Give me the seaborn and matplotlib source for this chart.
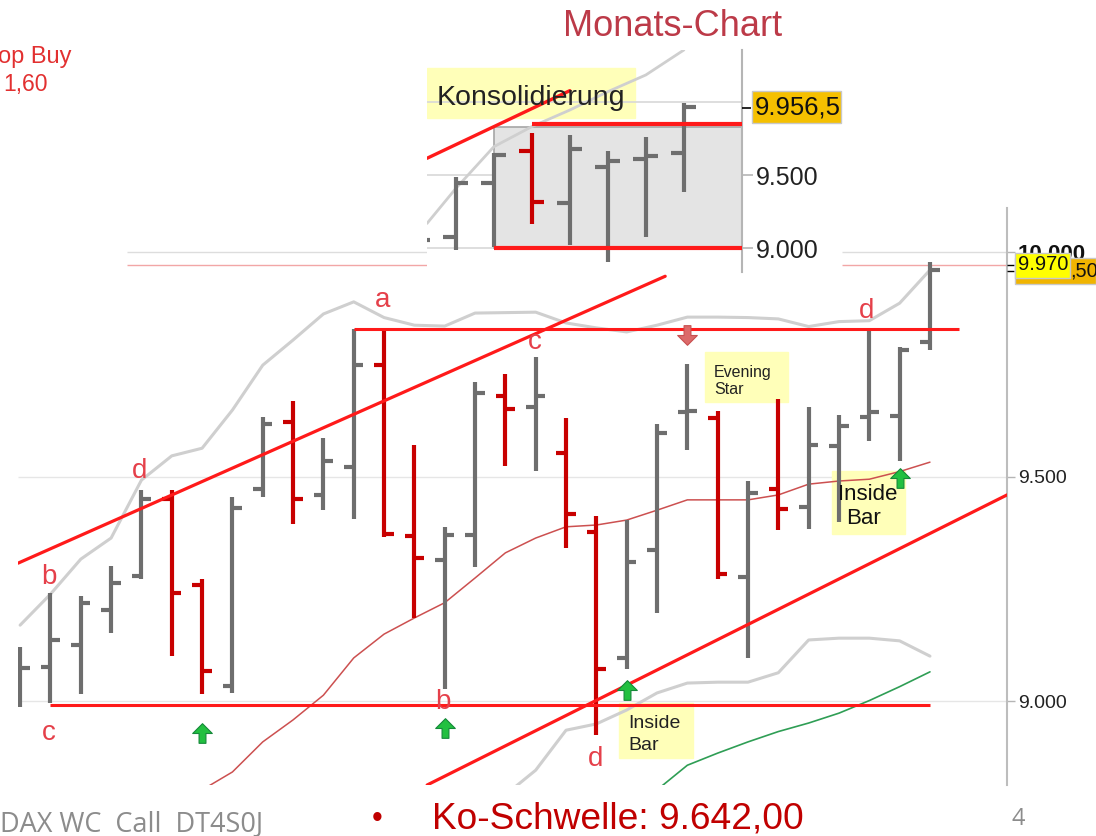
import matplotlib
matplotlib.use("Agg")
import matplotlib.pyplot as plt
from matplotlib.patches import Rectangle
from matplotlib.path import Path
import seaborn as sns

W, H = 1096, 836

# main chart, one entry per month
highs = [9120, 9240, 9234, 9301, 9471, 9471, 9272, 9455, 9633, 9669, 9585, 9828, 9828, 9571, 9388, 9711,
         9728, 9767, 9631, 9413, 9403, 9616, 9750, 9646, 9490, 9673, 9655, 9637, 9828, 9788, 9978]
lows = [8987, 8996, 9016, 9152, 9272, 9100, 9016, 9019, 9454, 9394, 9425, 9405, 9366, 9184, 9026, 9299,
        9523, 9513, 9341, 8924, 9071, 9195, 9559, 9272, 9096, 9381, 9384, 9398, 9579, 9534, 9782]
opens = [9073, 9076, 9125, 9203, 9279, 9449, 9258, 9034, 9472, 9622, 9458, 9521, 9748, 9367, 9314, 9370,
         9679, 9655, 9553, 9377, 9095, 9336, 9644, 9630, 9277, 9472, 9433, 9568, 9633, 9634, 9799]
closes = [9073, 9136, 9218, 9262, 9451, 9241, 9066, 9430, 9618, 9451, 9534, 9748, 9373, 9318, 9370, 9685,
          9651, 9679, 9416, 9071, 9310, 9598, 9647, 9283, 9463, 9427, 9571, 9613, 9644, 9781, 9960]
is_down = [0, 0, 0, 0, 0, 1, 1, 0, 0, 1, 0, 0, 1, 1, 0, 0, 1, 0, 1, 1, 0, 0, 0, 1, 0, 1, 0, 0, 0, 0, 0]

upper_band = [9169, 9238, 9316, 9363, 9492, 9546, 9563, 9648, 9748, 9804, 9862, 9889, 9854, 9837, 9835, 9864,
              9865, 9866, 9842, 9831, 9822, 9837, 9855, 9855, 9854, 9851, 9834, 9845, 9847, 9886, 9960]
mid_band = [8802, 8842, 8909, 8958, 9013, 9096, 9149, 9185, 9219, 9274, 9330, 9363, 9388, 9392, 9403, 9425,
            9448, 9448, 9448, 9459, 9483, 9490, 9494, 9511, 9532]
low_band = [8791, 8846, 8935, 8949, 8980, 9018, 9040, 9042, 9042, 9063, 9136, 9140, 9140, 9134, 9100]
green_line = [8802, 8857, 8884, 8909, 8932, 8951, 8973, 9001, 9032, 9065]

up_arrow_x = [6, 14, 20, 29]
up_arrow_y = [8929, 8940, 9024, 9497]
down_arrow_x = [22]
down_arrow_y = [9815]

tick_vals = [9000, 9500, 10000]
tick_labels = ["9.000", "9.500", "10.000"]

# inset chart
in_highs = [9057, 9489, 9648, 9784, 9773, 9664, 9761, 9993]
in_lows = [9057, 8989, 9007, 9166, 9023, 8905, 9080, 9382]
in_opens = [9057, 9075, 9443, 9664, 9307, 9555, 9609, 9648]
in_closes = [9057, 9443, 9634, 9318, 9675, 9593, 9632, 9961]
in_down = [0, 0, 0, 1, 0, 0, 0, 0]
in_band_x = [0.24, 1, 2, 3, 4, 5, 6, 7]
in_band = [9170, 9409, 9693, 9830, 9943, 10068, 10182, 10352]

GRAY = "#6e6e6e"
DRED = "#c80000"
RED = "#ff1a1a"
BAND = "#cfcfcf"
LABEL = "#e5404a"
YEL = "#ffffb9"

sns.set_style("white")
plt.rcParams["font.family"] = ["Liberation Sans", "DejaVu Sans"]


def px_box(x0, y0, x1, y1):
    return (x0 / W, 1 - y1 / H), (x1 - x0) / W, (y1 - y0) / H


def put(x, y, s, size, color="black", **kw):
    kw.setdefault("va", "center")
    fig.text(x / W, 1 - y / H, s, fontsize=size, color=color, **kw)


def ohlc(ax, xs, hi, lo, op, cl, down, tick, lw):
    for x, h, l, o, c, d in zip(xs, hi, lo, op, cl, down):
        col = DRED if d else GRAY
        ax.vlines(x, l, h, color=col, lw=lw, zorder=3)
        ax.hlines(o, x - tick, x, color=col, lw=lw, zorder=3)
        ax.hlines(c, x, x + tick, color=col, lw=lw, zorder=3)


up_arrow = Path([(-0.35, -1), (0.35, -1), (0.35, 0), (1, 0), (0, 1), (-1, 0), (-0.35, 0), (-0.35, -1)], closed=True)
down_arrow = Path([(-0.35, 1), (0.35, 1), (0.35, 0), (1, 0), (0, -1), (-1, 0), (-0.35, 0), (-0.35, 1)], closed=True)

fig = plt.figure(figsize=(W / 100, H / 100), dpi=100, facecolor="white")

# --- main chart
ax = fig.add_axes([18 / W, 1 - 785 / H, 989 / W, 577 / H], facecolor="white", zorder=1)
months = list(range(len(highs)))

ax.hlines([9000, 9500], -0.07, 32.54, color="#e6e6e6", lw=1, zorder=0)
ax.hlines([10000, 10000], [3.53, 27.1], [13.42, 32.54], color="#dddddd", lw=1, zorder=0)
ax.hlines([9970, 9970], [3.53, 27.1], [13.42, 32.54], color="#f2a6a6", lw=1, zorder=0)
# the two short black marks of the last price
ax.hlines([9970, 9958], 32.54, 32.78, color="black", lw=1, zorder=6, clip_on=False)

xy, w, h = px_box(705, 352, 788, 402)
ax.add_patch(Rectangle(xy, w, h, color=YEL, transform=fig.transFigure, zorder=1))
xy, w, h = px_box(832, 471, 905, 534)
ax.add_patch(Rectangle(xy, w, h, color=YEL, transform=fig.transFigure, zorder=1))
xy, w, h = px_box(619, 703, 693, 758)
ax.add_patch(Rectangle(xy, w, h, color=YEL, transform=fig.transFigure, zorder=1))

sns.lineplot(x=months, y=upper_band, color=BAND, lw=2.2, ax=ax, zorder=2)
sns.lineplot(x=months[6:], y=mid_band, color="#cc5050", lw=1.1, ax=ax, zorder=2)
sns.lineplot(x=months[16:], y=low_band, color=BAND, lw=2.2, ax=ax, zorder=2)
sns.lineplot(x=months[21:], y=green_line, color="#2f9e55", lw=1.2, ax=ax, zorder=2)

ohlc(ax, months, highs, lows, opens, closes, is_down, 0.32, 3)

ax.plot([-0.07, 21.27], [9307, 9946], color=RED, lw=2.3, zorder=4)
ax.plot([13.42, 32.54], [8813, 9459], color=RED, lw=2.3, zorder=4)
ax.hlines(9828, 11, 30.96, color=RED, lw=2.2, zorder=4)
ax.hlines(8991, 1, 30, color=RED, lw=2.2, zorder=4)

ax.scatter(up_arrow_x, up_arrow_y, marker=up_arrow, s=200, color="#22c040", edgecolors="#15893a", lw=0.8, zorder=5)
ax.scatter(down_arrow_x, down_arrow_y, marker=down_arrow, s=200, color="#dc6a6a", edgecolors="#c85050", lw=0.8, zorder=5)

ax.set_xlim(-0.07, 32.54)
ax.set_ylim(8813, 10098)
ax.set_xticks([])
ax.set_yticks(tick_vals)
ax.set_yticklabels(tick_labels, fontsize=14, color="#222222", va="center_baseline")
ax.yaxis.tick_right()
ax.tick_params(axis="y", length=6, width=1, color="#b5b5b5", pad=2, right=True)
top_label = ax.yaxis.get_major_ticks()[-1].label2
top_label.set_fontsize(16)
top_label.set_fontweight("bold")
top_label.set_color("#111111")
for name in ["left", "top", "bottom"]:
    ax.spines[name].set_visible(False)
ax.spines["right"].set_color("#bdbdbd")
ax.spines["right"].set_linewidth(1.5)

# --- inset with the consolidation
ins = fig.add_axes([427 / W, 1 - 272 / H, 315 / W, 222 / H], facecolor="white", zorder=2)
in_months = list(range(len(in_highs)))

xy, w, h = px_box(427, 68, 635, 118)
ins.add_patch(Rectangle(xy, w, h, color=YEL, transform=fig.transFigure, zorder=0))
ins.hlines([9000, 9500, 10000], 0.24, 8.53, color="#d8d8d8", lw=1.2, zorder=1)
ins.add_patch(Rectangle((2, 9000), 6.53, 825, facecolor="#e4e4e4", edgecolor="#a6a6a6", lw=1.2, zorder=1))

sns.lineplot(x=in_band_x, y=in_band, color=BAND, lw=2, ax=ins, zorder=2)
ohlc(ins, in_months, in_highs, in_lows, in_opens, in_closes, in_down, 0.33, 3)

ins.plot([0.24, 4], [9614, 10075], color=RED, lw=2.4, zorder=4)
ins.hlines(9848, 3, 8.53, color=RED, lw=3, zorder=4)
ins.hlines(9000, 2, 8.53, color=RED, lw=3, zorder=4)
ins.hlines(9956.5, 8.53, 8.76, color="black", lw=1.2, zorder=6, clip_on=False)

ins.set_xlim(0.24, 8.53)
ins.set_ylim(8839, 10352)
ins.set_xticks([])
ins.set_yticks([9000, 9500])
ins.set_yticklabels(["9.000", "9.500"], fontsize=18, color="#222222", va="center_baseline")
ins.yaxis.tick_right()
ins.tick_params(axis="y", length=8, width=1.2, color="#b5b5b5", pad=2, right=True)
for name in ["left", "top", "bottom"]:
    ins.spines[name].set_visible(False)
ins.spines["right"].set_color("#b5b5b5")
ins.spines["right"].set_linewidth(1.5)

# --- price boxes on top
xy, w, h = px_box(752, 91, 841, 123)
fig.add_artist(Rectangle(xy, w, h, facecolor="#f5c000", edgecolor="#c8c8c8", lw=1, transform=fig.transFigure, zorder=2))
put(755, 107, "9.956,5", 18.5, "#111111")
xy, w, h = px_box(1015, 258, 1096, 284)
fig.add_artist(Rectangle(xy, w, h, facecolor="#f0b400", edgecolor="#c8c8c8", lw=1, transform=fig.transFigure, zorder=2))
xy, w, h = px_box(1015, 253, 1070, 278)
fig.add_artist(Rectangle(xy, w, h, facecolor="#ffff00", edgecolor="#c8c8c8", lw=1, transform=fig.transFigure, zorder=2))
put(1018, 264, "9.970", 14.5, "#111111")
put(1070, 271, ",50", 14.5, "#111111")

# --- texts
put(673, 26, "Monats-Chart", 26, "#bc3a48", ha="center")
put(-2, 57, "op Buy", 17, "#e23030")
put(3, 84, "1,60", 16.5, "#e23030")
put(437, 98, "Konsolidierung", 20.5, "#222222")
put(714, 372, "Evening", 11.5, "#222222")
put(714, 389, "Star", 11.5, "#222222")
put(838, 495, "Inside", 16, "#111111")
put(846, 518, "Bar", 16, "#111111")
put(628, 724, "Inside", 14, "#222222")
put(628, 746, "Bar", 14, "#222222")

for x, y, s in [(49, 577, "b"), (140, 471, "d"), (383, 300, "a"), (535, 342, "c"), (867, 311, "d"),
                (443, 702, "b"), (49, 733, "c"), (596, 759, "d")]:
    put(x, y, s, 20, LABEL, ha="center")

put(0, 824, "DAX WC  Call  DT4S0J", 19.5, "#8c8c8c", family="Open Sans")
put(372, 819, "•", 22, "#c00000")
put(432, 819, "Ko-Schwelle: 9.642,00", 26.7, "#c00000")
put(1011, 819, "4", 17, "#8c8c8c", family="Open Sans")

fig.savefig("out.png", dpi=100)
